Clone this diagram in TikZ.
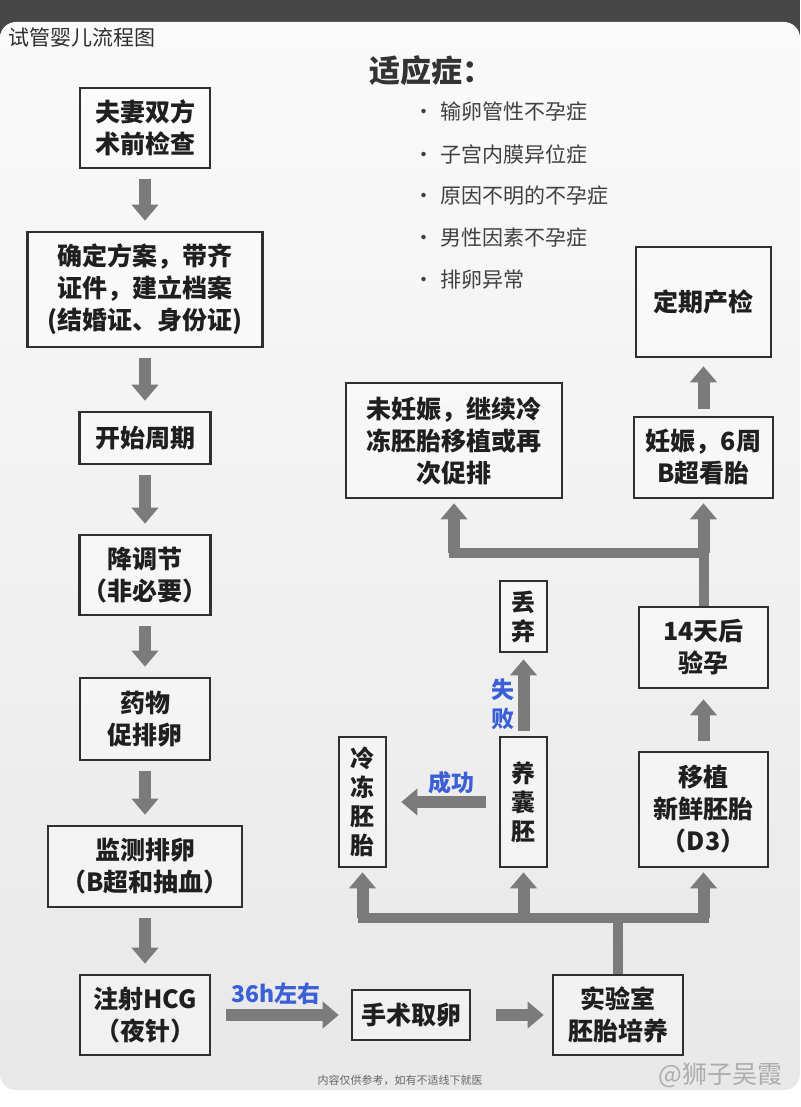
\documentclass[tikz,border=0pt]{standalone}
\usepackage{fontspec}
\setmainfont{Noto Sans CJK SC}
\usetikzlibrary{arrows.meta}
\definecolor{boxline}{HTML}{2F2F2F}
\definecolor{arrowgray}{HTML}{7B7B7B}
\definecolor{labelblue}{HTML}{3B5FD6}
\definecolor{topbar}{HTML}{474747}
\begin{document}
\begin{tikzpicture}[x=1pt,y=-1pt,
  box/.style={draw=boxline, line width=2.6pt, fill=white, fill opacity=0.4, text opacity=1,
    text=black!88, align=center, inner sep=2pt, font=\bfseries\fontsize{25}{32}\selectfont},
  vbox/.style={box, font=\bfseries\fontsize{24}{29}\selectfont},
  boxsize/.style 2 args={minimum width=#1pt, minimum height=#2pt},
  arr/.style={draw=arrowgray, line width=12pt, -{Triangle[width=26pt,length=16pt]},
    shorten <=10pt, shorten >=10pt},
  conn/.style={draw=arrowgray, line width=10pt},
  lbl/.style={text=labelblue, font=\bfseries\fontsize{23}{26}\selectfont},
  item/.style={anchor=west, text=black!75, font=\fontsize{21}{24}\selectfont}]
\clip (0,0) rectangle (800,1107);
\fill[white] (0,0) rectangle (800,1107);
\fill[topbar] (0,0) rectangle (800,40);
\shade[top color=black!2, bottom color=black!9, rounded corners=16pt] (0,22) rectangle (800,1090);
\node[anchor=west, text=black!82, font=\fontsize{21}{24}\selectfont] (title) at (5,38) {试管婴儿流程图};
% indications
\node[anchor=west, text=black!80, font=\bfseries\fontsize{31}{34}\selectfont] (indtitle) at (366,71) {适应症：};
\foreach \txt [count=\i] in {输卵管性不孕症, 子宫内膜异位症, 原因不明的不孕症, 男性因素不孕症, 排卵异常}
  \node[item] (ind\i) at (410,70+42*\i) {•\hspace{6pt}\txt};
% main column
\node[box, boxsize={130}{80}] (check) at (145,128) {夫妻双方\\术前检查};
\node[box, boxsize={235}{115}] (plan) at (145,289.5) {确定方案，带齐\\证件，建立档案\\(结婚证、身份证)};
\node[box, boxsize={131}{52}] (cycle) at (145,438) {开始周期};
\node[box, boxsize={131}{80}] (downreg) at (145,575) {降调节\\（非必要）};
\node[box, boxsize={130}{82}] (stim) at (145,719) {药物\\促排卵};
\node[box, boxsize={194}{81}] (monitor) at (145,866.5) {监测排卵\\（B超和抽血）};
\node[box, boxsize={130}{80}] (hcg) at (145,1015) {注射HCG\\（夜针）};
\node[box, boxsize={118}{50}] (retrieve) at (411,1015) {手术取卵};
\node[box, boxsize={130}{80}] (lab) at (618,1015) {实验室\\胚胎培养};
% embryo side
\node[vbox, boxsize={47}{130}] (freeze) at (362.5,802) {冷\\冻\\胚\\胎};
\node[vbox, boxsize={47}{130}] (blast) at (523.5,802) {养\\囊\\胚};
\node[vbox, boxsize={47}{71}] (discard) at (523.5,616.5) {丢\\弃};
\node[box, boxsize={129}{115}] (transfer) at (703.5,809.5) {移植\\新鲜胚胎\\（D3）};
\node[box, boxsize={129}{81}] (test) at (703.5,647.5) {14天后\\验孕};
\node[box, boxsize={216}{115}] (fail) at (454,440.5) {未妊娠，继续冷\\冻胚胎移植或再\\次促排};
\node[box, boxsize={139}{81}] (preg) at (703.5,457.5) {妊娠，6周\\B超看胎};
\node[box, boxsize={135}{110}] (prenatal) at (703.5,302) {定期产检};
% arrows down the left
\draw[arr] (check) -- (plan);
\draw[arr] (plan) -- (cycle);
\draw[arr] (cycle) -- (downreg);
\draw[arr] (downreg) -- (stim);
\draw[arr] (stim) -- (monitor);
\draw[arr] (monitor) -- (hcg);
\draw[arr, shorten <=15pt, shorten >=12pt] (hcg.east) -- (retrieve.west);
\node[lbl] (wait) at (276,994) {36h左右};
\draw[arr, shorten <=25pt, shorten >=8pt] (retrieve.east) -- (lab.west);
% split above the lab
\coordinate (split) at (618,918);
\draw[conn] (lab.north) -- (split);
\draw[conn, line cap=rect] (freeze.south |- split) -- (transfer.south |- split);
\draw[arr, shorten <=0pt, shorten >=4pt] (freeze.south |- split) -- (freeze.south);
\draw[arr, shorten <=0pt, shorten >=4pt] (blast.south |- split) -- (blast.south);
\draw[arr, shorten <=0pt, shorten >=4pt] (transfer.south |- split) -- (transfer.south);
\draw[arr, shorten <=5pt, shorten >=6pt] (blast.north) -- (discard.south);
\node[lbl, align=center, font=\bfseries\fontsize{23}{29}\selectfont] (failtag) at (503,704) {失\\败};
\draw[arr, shorten <=13pt, shorten >=14pt] (blast.west) -- (freeze.east);
\node[lbl] (oktag) at (451,783) {成功};
\draw[arr] (transfer.north) -- (test.south);
% result split
\coordinate (split2) at (703.5,553);
\draw[conn] (test.north) -- (split2);
\draw[conn, line cap=rect] (fail.south |- split2) -- (split2);
\draw[arr, shorten <=0pt, shorten >=4pt] (fail.south |- split2) -- (fail.south);
\draw[arr, shorten <=0pt, shorten >=4pt] (split2) -- (preg.south);
\draw[arr, shorten <=7pt, shorten >=8pt] (preg.north) -- (prenatal.south);
% footer
\node[text=black!60, font=\fontsize{11}{13}\selectfont] (note) at (400,1080) {内容仅供参考，如有不适线下就医};
\node[anchor=east, text=black!32, font=\fontsize{25}{30}\selectfont] (mark) at (786,1075) {@狮子吴霞};
\end{tikzpicture}
\end{document}
